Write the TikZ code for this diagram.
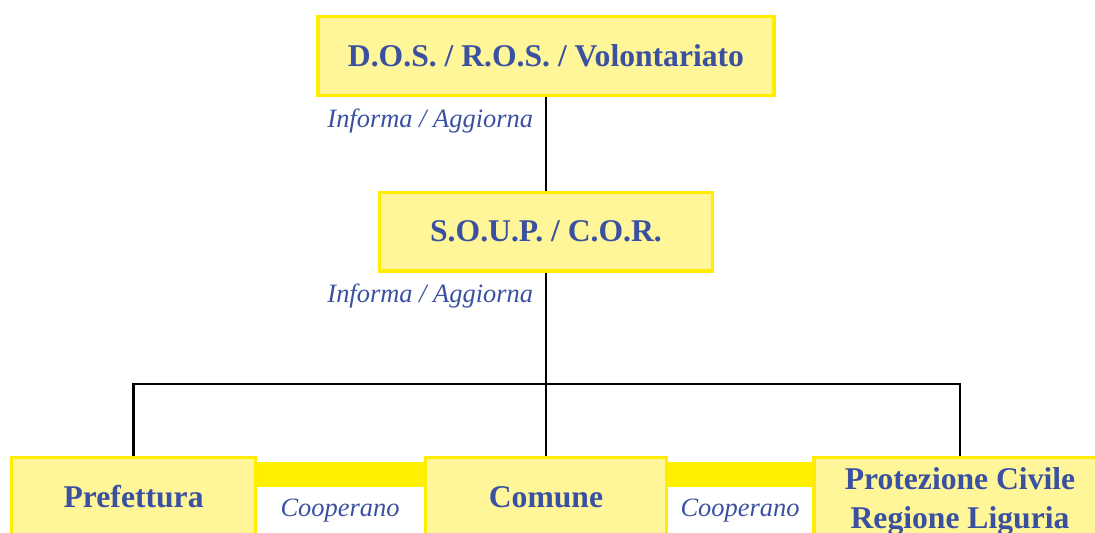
\documentclass[tikz,border=0pt]{standalone}
\usepackage{fontspec}
\setmainfont{Liberation Serif}
\usetikzlibrary{positioning}
\definecolor{boxfill}{RGB}{255,246,153}
\definecolor{boxborder}{RGB}{255,236,0}
\definecolor{coopbar}{RGB}{255,240,0}
\definecolor{textblue}{RGB}{58,80,160}

\begin{document}
\begin{tikzpicture}[
    box/.style={draw=boxborder, line width=2.2pt, fill=boxfill, minimum height=1.97cm, align=center, text=textblue, font=\fontsize{22.5}{28}\selectfont\bfseries},
    line/.style={draw=black, line width=1.6pt},
    coop/.style={draw=coopbar, line width=6.2mm},
    lbl/.style={text=textblue, font=\fontsize{18.8}{22}\selectfont\itshape}
]
    \useasboundingbox (0,0) rectangle (27.375,13.3);

    % Control levels
    \node[box, minimum width=11.4cm] (dos) at (13.65,11.9) {D.O.S. / R.O.S. / Volontariato};
    \node[box, minimum width=8.33cm] (soup) at (13.65,7.51) {S.O.U.P. / C.O.R.};

    % Cooperating bodies
    \node[box, minimum width=6.1cm] (pref) at (3.34,0.875) {Prefettura};
    \node[box, minimum width=6.03cm] (comune) at (13.65,0.875) {Comune};
    \node[box, minimum width=7.3cm, minimum height=2.2cm] (prot) at (24.0,0.76) {Protezione Civile\\Regione Liguria};

    % Links
    \coordinate (split) at (13.65,3.7);
    \draw[line] (dos) -- (soup);
    \draw[line] (soup) -- (split);
    \draw[line] (pref.north) |- (split) -| (prot.north);
    \draw[line] (split) -- (comune);

    % Cooperation bars
    \draw[coop] ([yshift=5.6mm]pref.east) -- ([yshift=5.6mm]comune.west);
    \draw[coop] ([yshift=5.6mm]comune.east) -- ([yshift=5.6mm]comune.east -| prot.west);

    % Labels
    \node[lbl, anchor=east] (inf1) at (13.45,10.28) {Informa / Aggiorna};
    \node[lbl, anchor=east] (inf2) at (13.45,5.9) {Informa / Aggiorna};
    \node[lbl] (coop1) at (8.5,0.53) {Cooperano};
    \node[lbl] (coop2) at (18.5,0.53) {Cooperano};
\end{tikzpicture}
\end{document}
